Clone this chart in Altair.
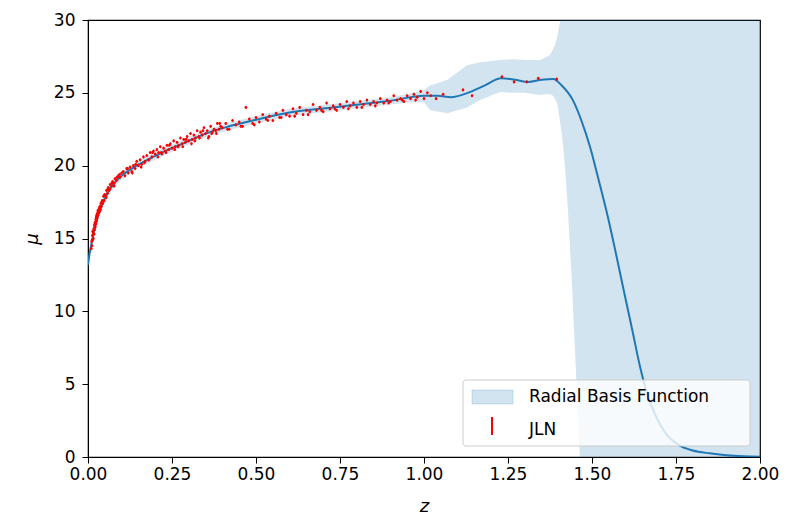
import altair as alt
import pandas as pd

# ---- GP mean curve
line_z = [0.0, 0.005, 0.01, 0.015, 0.02, 0.03, 0.045, 0.06, 0.075, 0.1, 0.13, 0.16, 0.22, 0.29,
          0.35, 0.42, 0.49, 0.6, 0.75, 0.9, 1.0, 1.04, 1.08, 1.13, 1.18, 1.23, 1.27, 1.31, 1.35,
          1.385, 1.41, 1.443, 1.47, 1.494, 1.52, 1.545, 1.57, 1.592, 1.62, 1.643, 1.665, 1.69,
          1.72, 1.76, 1.8, 1.85, 1.9, 1.95, 2.0]
line_mu = [13.2, 14.0, 14.6, 15.2, 15.8, 16.6, 17.5, 18.2, 18.7, 19.3, 19.8, 20.2, 20.9, 21.6,
           22.2, 22.7, 23.1, 23.65, 24.05, 24.45, 24.8, 24.8, 24.7, 25.0, 25.5, 26.0, 25.9, 25.75, 25.9,
           25.95, 25.5, 24.5, 23.0, 21.3, 19.0, 16.7, 14.1, 11.7, 8.7, 6.2, 4.3, 2.8,
           1.6, 0.8, 0.45, 0.25, 0.12, 0.05, 0.02]

# ---- confidence band
band_z = [0.0, 0.005, 0.01, 0.015, 0.02, 0.03, 0.045, 0.06, 0.075, 0.1, 0.13, 0.16, 0.22, 0.29,
          0.35, 0.42, 0.49, 0.6, 0.75, 0.9, 0.96, 1.0, 1.018, 1.07, 1.128, 1.167, 1.226, 1.265,
          1.3, 1.345, 1.36, 1.375, 1.384, 1.39, 1.396, 1.40, 1.405, 1.41, 1.414, 1.42, 1.429,
          1.44, 1.449, 1.458, 1.464, 1.47, 1.5, 2.0]
band_lo = [12.7, 13.6, 14.3, 14.9, 15.5, 16.3, 17.2, 17.9, 18.45, 19.05, 19.55, 19.95, 20.65, 21.35,
           21.95, 22.45, 22.85, 23.4, 23.8, 24.2, 24.35, 24.35, 23.8, 23.6, 24.0, 24.5, 25.05, 25.0,
           25.0, 24.85, 24.9, 24.9, 24.8, 24.6, 24.3, 23.8, 23.0, 22.2, 21.3, 19.8, 16.7,
           12.1, 7.5, 3.0, 0.0, -2.0, -8.0, -10.0]
band_hi = [13.7, 14.4, 14.9, 15.5, 16.1, 16.9, 17.8, 18.5, 18.95, 19.55, 20.05, 20.45, 21.15, 21.85,
           22.45, 22.95, 23.35, 23.9, 24.3, 24.7, 24.95, 25.2, 25.5, 25.9, 26.9, 27.1, 27.25, 27.3,
           27.25, 27.25, 27.4, 27.6, 28.0, 28.3, 28.8, 29.3, 29.9, 30.5, 31.0, 33.0, 36.0,
           40.0, 40.0, 40.0, 40.0, 40.0, 40.0, 40.0]

# ---- JLN supernova data
pts_z = [0.010, 0.011, 0.012, 0.013, 0.014, 0.015, 0.016, 0.017, 0.018, 0.019, 0.020, 0.021,
         0.022, 0.023, 0.024, 0.025, 0.026, 0.027, 0.028, 0.029, 0.030, 0.032, 0.033, 0.035,
         0.036, 0.038, 0.040, 0.042, 0.044, 0.046, 0.048, 0.050, 0.053, 0.055, 0.058, 0.060,
         0.063, 0.066, 0.070, 0.073, 0.077, 0.080, 0.085, 0.090, 0.095, 0.100,
         0.012, 0.014, 0.016, 0.018, 0.020, 0.022, 0.024, 0.026, 0.028, 0.031, 0.034, 0.037,
         0.041, 0.045, 0.049, 0.054, 0.059, 0.065, 0.071, 0.078, 0.086, 0.094,
         0.105, 0.11, 0.115, 0.12, 0.125, 0.13, 0.135, 0.14, 0.145, 0.15, 0.155, 0.16, 0.165,
         0.17, 0.175, 0.18, 0.185, 0.19, 0.195, 0.20, 0.205, 0.21, 0.215, 0.22, 0.225, 0.23,
         0.235, 0.24, 0.245, 0.25, 0.255, 0.26, 0.265, 0.27, 0.275, 0.28, 0.285, 0.29, 0.295,
         0.30, 0.305, 0.31, 0.315, 0.32, 0.325, 0.33, 0.335, 0.34, 0.345, 0.35, 0.355, 0.36,
         0.365, 0.37, 0.375, 0.38, 0.385, 0.39, 0.395, 0.40,
         0.118, 0.142, 0.168, 0.192, 0.218, 0.242, 0.268, 0.292, 0.318, 0.342, 0.368, 0.392,
         0.132, 0.158, 0.182, 0.208, 0.232, 0.258, 0.282, 0.308, 0.332, 0.358, 0.382,
         0.41, 0.42, 0.43, 0.44, 0.45, 0.46, 0.47, 0.48, 0.49, 0.50, 0.51, 0.52, 0.53, 0.54,
         0.55, 0.56, 0.57, 0.58, 0.59, 0.60, 0.61, 0.62, 0.63, 0.64, 0.65, 0.66, 0.67, 0.68,
         0.69, 0.70, 0.71, 0.72, 0.73, 0.74, 0.75, 0.76, 0.77, 0.78, 0.79, 0.80, 0.81, 0.82,
         0.83, 0.84, 0.85, 0.86, 0.87, 0.88, 0.89, 0.90, 0.91, 0.92, 0.93, 0.94, 0.95, 0.96,
         0.97, 0.98, 0.99, 1.00, 1.01, 1.02, 1.036, 1.057, 1.116, 1.143, 1.232, 1.268, 1.306,
         1.34, 1.395,
         0.415, 0.455, 0.495, 0.535, 0.575, 0.615, 0.655, 0.695, 0.735, 0.775, 0.815, 0.855,
         0.895, 0.935, 0.975]
pts_mu = [14.3, 14.8, 14.5, 15.2, 14.9, 15.4, 15.0, 15.6, 15.3, 15.9, 15.6, 16.1,
          15.8, 16.3, 16.0, 16.5, 16.2, 16.7, 16.4, 16.9, 16.6, 17.0, 16.8, 17.2,
          16.9, 17.4, 17.2, 17.6, 17.4, 17.9, 17.6, 18.0, 17.9, 18.3, 18.1, 18.5,
          18.3, 18.7, 18.6, 18.9, 18.8, 19.1, 19.0, 19.3, 19.2, 19.5,
          14.9, 15.5, 15.4, 15.7, 16.0, 16.1, 16.4, 16.6, 16.7, 16.8, 17.1, 17.0,
          17.5, 17.5, 18.0, 17.8, 18.4, 18.4, 18.8, 18.6, 19.2, 19.4,
          19.6, 19.3, 19.8, 19.5, 19.9, 19.6, 20.0, 19.8, 20.3, 20.0, 20.4, 20.1, 20.6,
          20.3, 20.7, 20.4, 20.9, 20.6, 21.0, 20.8, 21.1, 20.9, 21.3, 20.8, 21.2, 21.0,
          21.4, 21.1, 21.5, 21.2, 21.7, 21.3, 21.6, 21.4, 21.9, 21.5, 21.8, 21.6, 22.0,
          21.7, 22.2, 21.8, 22.1, 21.9, 22.4, 22.0, 22.3, 22.1, 22.6, 22.2, 22.4, 22.0,
          22.7, 22.3, 22.5, 22.4, 22.9, 22.5, 22.7, 22.6,
          19.8, 20.1, 20.2, 20.9, 20.9, 21.4, 21.3, 21.8, 21.7, 22.4, 22.2, 22.9,
          19.5, 19.9, 20.4, 20.6, 20.9, 21.1, 21.3, 21.5, 21.9, 21.9, 22.2,
          22.9, 22.5, 23.1, 22.8, 23.0, 22.7, 24.0, 23.2, 22.9, 23.3, 23.0, 23.5, 23.2, 23.4,
          23.1, 23.6, 23.3, 23.8, 23.5, 23.4, 23.9, 23.6, 24.0, 23.5, 23.8, 23.7, 24.2, 23.8,
          24.0, 23.7, 24.3, 23.9, 24.1, 23.8, 24.2, 24.0, 24.4, 24.1, 24.3, 24.0, 24.4, 24.2,
          24.5, 24.2, 24.4, 24.3, 24.6, 24.3, 24.5, 24.4, 24.8, 24.5, 24.6, 24.4, 24.8, 24.6,
          24.9, 24.7, 25.1, 24.6, 25.0, 24.8, 24.6, 24.9, 25.2, 24.8, 26.1, 25.75, 25.75,
          26.0, 25.95,
          22.5, 22.7, 22.8, 23.1, 23.3, 23.4, 23.5, 23.8, 23.9, 23.9, 24.0, 24.1,
          24.3, 24.5, 24.5]
pts_err = 0.1

BLUE = "#1f77b4"
RED = "#ff0000"
W, H = 672, 437

line_df = pd.DataFrame({"z": line_z, "mu": line_mu})
band_df = pd.DataFrame({"z": band_z, "lo": band_lo, "hi": band_hi})
pts_df = pd.DataFrame({"z": pts_z, "mu": pts_mu})
pts_df["lo"] = pts_df["mu"] - pts_err
pts_df["hi"] = pts_df["mu"] + pts_err

xs = alt.Scale(domain=[0, 2], nice=False, zero=False, padding=0)
ys = alt.Scale(domain=[0, 30], nice=False, zero=False, padding=0)
xax = alt.Axis(values=[0, 0.25, 0.5, 0.75, 1.0, 1.25, 1.5, 1.75, 2.0], format=".2f",
               labelFlush=False,
               title="z", titleX=W / 2, titleY=49, titleBaseline="middle", titleAlign="center")
yax = alt.Axis(values=[0, 5, 10, 15, 20, 25, 30], title="μ", labelFlush=False,
               titleX=-56, titleY=H / 2, titleBaseline="middle", titleAlign="center")

band = alt.Chart(band_df).mark_area(color=BLUE, opacity=0.2, clip=True).encode(
    x=alt.X("z:Q", scale=xs, axis=xax),
    y=alt.Y("lo:Q", scale=ys, axis=yax),
    y2="hi:Q",
)
line = alt.Chart(line_df).mark_line(color=BLUE, strokeWidth=2, interpolate="monotone", clip=True).encode(
    x=alt.X("z:Q", scale=xs), y=alt.Y("mu:Q", scale=ys)
)
err = alt.Chart(pts_df).mark_rule(color=RED, strokeWidth=1).encode(
    x=alt.X("z:Q", scale=xs), y=alt.Y("lo:Q", scale=ys), y2="hi:Q"
)
pts = alt.Chart(pts_df).mark_circle(color=RED, size=7, opacity=1).encode(
    x=alt.X("z:Q", scale=xs), y=alt.Y("mu:Q", scale=ys)
)

one = alt.Data(values=[{"a": 1}])
leg_box = alt.Chart(one).mark_rect(fill="white", fillOpacity=0.8, stroke="#cccccc",
                                   strokeWidth=1, cornerRadius=3).encode(
    x=alt.value(375), x2=alt.value(662), y=alt.value(360), y2=alt.value(426))
leg_patch = alt.Chart(one).mark_rect(fill=BLUE, fillOpacity=0.2, stroke=BLUE, strokeOpacity=0.2).encode(
    x=alt.value(384), x2=alt.value(425), y=alt.value(370), y2=alt.value(384))
leg_bar = alt.Chart(one).mark_rule(color=RED, strokeWidth=2).encode(
    x=alt.value(404), y=alt.value(397), y2=alt.value(415))
leg_t1 = alt.Chart(one).mark_text(align="left", baseline="middle", font="DejaVu Sans",
                                  fontSize=17, color="#000000").encode(
    x=alt.value(441), y=alt.value(377), text=alt.value("Radial Basis Function"))
leg_t2 = alt.Chart(one).mark_text(align="left", baseline="middle", font="DejaVu Sans",
                                  fontSize=17, color="#000000").encode(
    x=alt.value(441), y=alt.value(410), text=alt.value("JLN"))

chart = alt.layer(band, line, err, pts, leg_box, leg_patch, leg_bar, leg_t1, leg_t2).properties(
    width=W, height=H,
    padding={"left": 80, "top": 12, "right": 19, "bottom": 60},
    autosize=alt.AutoSizeParams(type="none"),
).configure_view(stroke="#000000", strokeWidth=1.2).configure_axis(
    grid=False, domainColor="#000000", tickColor="#000000", tickSize=6,
    labelFont="DejaVu Sans", labelFontSize=17, labelColor="#000000",
    titleFont="DejaVu Sans", titleFontSize=18, titleFontStyle="italic",
    titleFontWeight="normal", titleColor="#000000",
).configure_axisX(labelPadding=3).configure_axisY(labelPadding=7)

chart.save("out.html", embed_options={"renderer": "svg", "actions": False})
